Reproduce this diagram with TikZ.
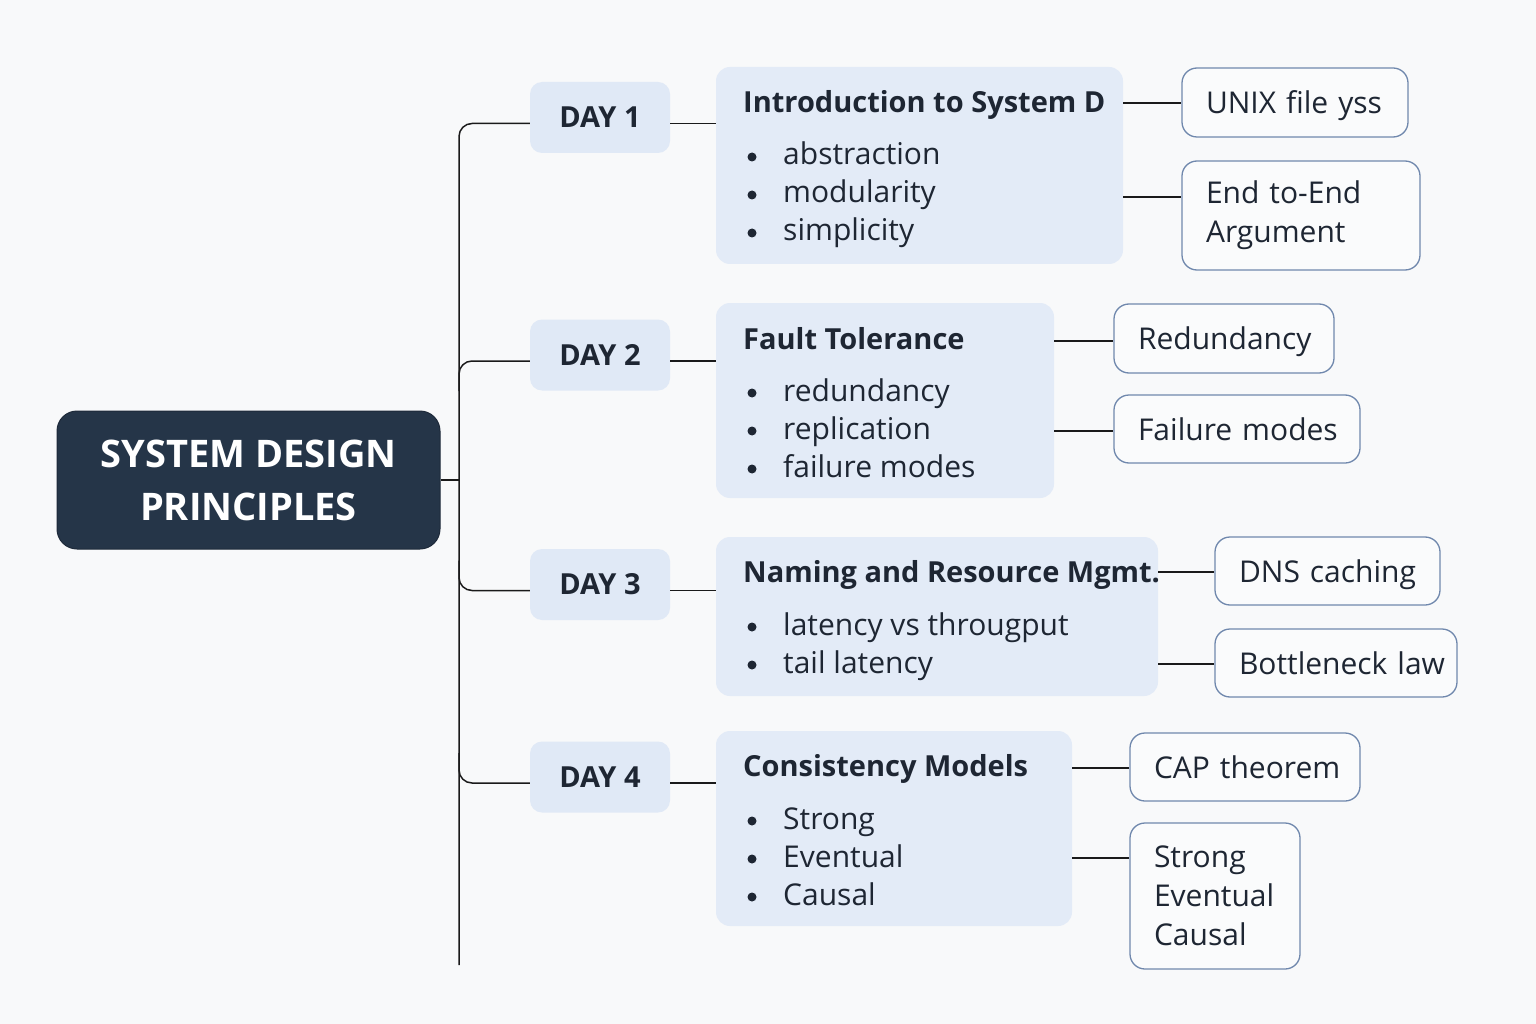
\documentclass[tikz,border=0pt]{standalone}
\usepackage{fontspec}
\setmainfont{Open Sans}
\hyphenpenalty=10000
\exhyphenpenalty=10000
\definecolor{bg}{HTML}{F8F9FA}
\definecolor{dayfill}{HTML}{E0E9F6}
\definecolor{topicfill}{HTML}{E3EBF7}
\definecolor{rootfill}{HTML}{253548}
\definecolor{ink}{HTML}{1E2633}
\definecolor{leafborder}{HTML}{7088AD}
\definecolor{leaffill}{HTML}{FAFBFC}
\definecolor{linec}{HTML}{1A1A1A}
\tikzset{
  rootbox/.style={fill=rootfill, draw=rootfill!80!black, line width=1pt, rounded corners=20pt, text=white, align=center,
    font=\fontsize{38}{53}\selectfont\bfseries, minimum width=383pt, minimum height=138pt},
  daybox/.style={fill=dayfill, rounded corners=12pt, text=ink, font=\fontsize{29}{34}\selectfont\bfseries,
    minimum width=140pt, minimum height=71pt},
  topicbox/.style={fill=topicfill, rounded corners=14pt, inner sep=0pt},
  ttl/.style={anchor=base west, text=ink, inner sep=0pt, font=\fontsize{29}{34}\selectfont\bfseries},
  itm/.style={anchor=base west, text=ink, inner sep=0pt, font=\fontsize{30}{34}\selectfont},
  dot/.style={circle, fill=ink, inner sep=0pt, minimum size=9pt},
  leaf/.style={draw=leafborder, fill=leaffill, line width=1.3pt, rounded corners=15pt, text=ink, align=left,
    inner xsep=24pt, inner ysep=0pt, font=\fontsize{30}{39}\selectfont},
  leaf1/.style={leaf, text depth=0pt},
  conn/.style={draw=linec, line width=1.5pt},
}
\begin{document}
\begin{tikzpicture}[x=1pt,y=-1pt]
\fill[bg] (0,0) rectangle (1536,1024);
\useasboundingbox (0,0) rectangle (1536,1024);

% root
\node[rootbox] (root) at (248.5,480) {SYSTEM DESIGN\\PRINCIPLES};

% day boxes
\node[daybox] (d1) at (600,117.5) {DAY 1};
\node[daybox] (d2) at (600,355) {DAY 2};
\node[daybox] (d3) at (600,584.5) {DAY 3};
\node[daybox] (d4) at (600,777) {DAY 4};

% topic boxes
\node[topicbox, minimum width=407pt, minimum height=197pt] (t1) at (919.5,165.5) {};
\node[topicbox, minimum width=338pt, minimum height=195pt] (t2) at (885,400.5) {};
\node[topicbox, minimum width=442pt, minimum height=159pt] (t3) at (937,616.5) {};
\node[topicbox, minimum width=356pt, minimum height=195pt] (t4) at (894,828.5) {};

% topic texts
\node[ttl] (t1h) at (743,113) {Introduction to System D};
\node[dot] (t1b1) at (752,157) {}; \node[itm] (t1i1) at (783,165) {abstraction};
\node[dot] (t1b2) at (752,195) {}; \node[itm] (t1i2) at (783,203) {modularity};
\node[dot] (t1b3) at (752,233) {}; \node[itm] (t1i3) at (783,241) {simplicity};

\node[ttl] (t2h) at (743,349) {Fault Tolerance};
\node[dot] (t2b1) at (752,393) {}; \node[itm] (t2i1) at (783,401) {redundancy};
\node[dot] (t2b2) at (752,431) {}; \node[itm] (t2i2) at (783,439) {replication};
\node[dot] (t2b3) at (752,469) {}; \node[itm] (t2i3) at (783,477) {failure modes};

\node[ttl] (t3h) at (743,582) {Naming and Resource Mgmt.};
\node[dot] (t3b1) at (752,627) {}; \node[itm] (t3i1) at (783,635) {latency vs througput};
\node[dot] (t3b2) at (752,665) {}; \node[itm] (t3i2) at (783,673) {tail latency};

\node[ttl] (t4h) at (743,776) {Consistency Models};
\node[dot] (t4b1) at (752,821) {}; \node[itm] (t4i1) at (783,829) {Strong};
\node[dot] (t4b2) at (752,859) {}; \node[itm] (t4i2) at (783,867) {Eventual};
\node[dot] (t4b3) at (752,897) {}; \node[itm] (t4i3) at (783,905) {Causal};

% leaves
\node[leaf1, minimum height=69pt, text width=178pt] (l1a) at (1295,102.5) {UNIX~file~yss};
\node[leaf, minimum height=109pt, text width=190pt] (l1b) at (1301,215.5) {End~to-End\\Argument};
\node[leaf1, minimum height=69pt, text width=172pt] (l2a) at (1224,338.5) {Redundancy};
\node[leaf1, minimum height=68pt, text width=198pt] (l2b) at (1237,429) {Failure~modes};
\node[leaf1, minimum height=68pt, text width=177pt] (l3a) at (1327.5,571) {DNS~caching};
\node[leaf1, minimum height=68pt, text width=194pt] (l3b) at (1336,663) {Bottleneck~law};
\node[leaf1, minimum height=68pt, text width=182pt] (l4a) at (1245,767) {CAP~theorem};
\node[leaf, minimum height=146pt, text width=122pt] (l4b) at (1215,896) {Strong\\Eventual\\Causal};

% trunk
\coordinate (j0) at (459,480);
\coordinate (jb) at (459,965);
\coordinate (b1) at ([yshift=-6pt]d1.west);
\coordinate (b2) at ([yshift=-6pt]d2.west);
\coordinate (b3) at ([yshift=-6pt]d3.west);
\coordinate (b4) at ([yshift=-6pt]d4.west);
\draw[conn] (root.east) -- (j0);
\draw[conn, rounded corners=13pt] (b1) -- (b1 -| jb) -- (jb);
\draw[conn, rounded corners=13pt] (b2) -- (b2 -| jb) -- ([yshift=-30pt]b2 -| jb);
\draw[conn, rounded corners=13pt] ([yshift=30pt]b3 -| jb) -- (b3 -| jb) -- (b3);
\draw[conn, rounded corners=13pt] ([yshift=30pt]b4 -| jb) -- (b4 -| jb) -- (b4);

% day to topic
\coordinate (e1) at ([yshift=-6pt]d1.east);
\coordinate (e2) at ([yshift=-6pt]d2.east);
\coordinate (e3) at ([yshift=-6pt]d3.east);
\coordinate (e4) at ([yshift=-6pt]d4.east);
\draw[conn] (e1) -- (e1 -| t1.west);
\draw[conn] (e2) -- (e2 -| t2.west);
\draw[conn] (e3) -- (e3 -| t3.west);
\draw[conn] (e4) -- (e4 -| t4.west);

% topic to leaf
\coordinate (c1a) at (1150,103);
\coordinate (c1b) at (1150,197);
\coordinate (c2a) at (1080,341);
\coordinate (c2b) at (1080,431);
\coordinate (c3a) at (1180,572);
\coordinate (c3b) at (1180,664);
\coordinate (c4a) at (1100,768);
\coordinate (c4b) at (1100,858);
\draw[conn] (c1a -| t1.east) -- (c1a -| l1a.west);
\draw[conn] (c1b -| t1.east) -- (c1b -| l1b.west);
\draw[conn] (c2a -| t2.east) -- (c2a -| l2a.west);
\draw[conn] (c2b -| t2.east) -- (c2b -| l2b.west);
\draw[conn] (c3a -| t3.east) -- (c3a -| l3a.west);
\draw[conn] (c3b -| t3.east) -- (c3b -| l3b.west);
\draw[conn] (c4a -| t4.east) -- (c4a -| l4a.west);
\draw[conn] (c4b -| t4.east) -- (c4b -| l4b.west);
\end{tikzpicture}
\end{document}
